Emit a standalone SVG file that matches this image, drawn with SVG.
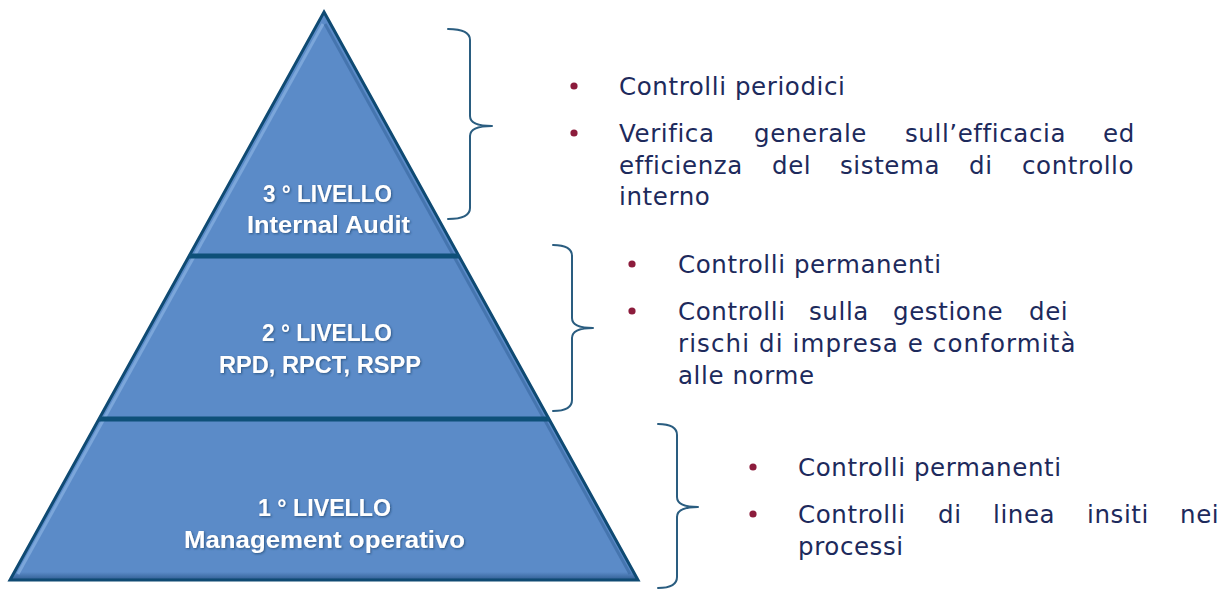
<svg xmlns="http://www.w3.org/2000/svg" width="1223" height="590" viewBox="0 0 1223 590">
  <defs>
    <style>
      .lvl { font-family: "Liberation Sans", Arial, sans-serif; font-weight: bold; font-size: 24px; fill: #ffffff; text-anchor: middle; }
      .txt { font-family: "DejaVu Sans", "Liberation Sans", sans-serif; font-size: 24.5px; fill: #1d2a5c; letter-spacing: 0.6px; }
      .bul { fill: #8c1c3c; }
      .brace { fill: none; stroke: #2a5d80; stroke-width: 2; stroke-linejoin: round; stroke-linecap: round; }
      .div { stroke: #0e5079; stroke-width: 5; }
    </style>
    <linearGradient id="bottomShade" x1="0" y1="0" x2="0" y2="1">
      <stop offset="0" stop-color="#5b8bc8"/>
      <stop offset="1" stop-color="#2f5d92"/>
    </linearGradient>
    <filter id="shadow" x="-10%" y="-30%" width="120%" height="160%">
      <feDropShadow dx="1" dy="1" stdDeviation="0.8" flood-color="#1f3f66" flood-opacity="0.7"/>
    </filter>
  </defs>
  <rect width="1223" height="590" fill="#ffffff"/>

  <g id="pyramid">
    <polygon points="324,12 638,580 10,580" fill="#5b8bc8"/>
    <polygon points="14,572 634,572 638,580 10,580" fill="url(#bottomShade)"/>
    <line x1="323" y1="24" x2="18" y2="574" stroke="#86afe0" stroke-width="3" opacity="0.75"/>
    <line x1="325" y1="24" x2="630" y2="574" stroke="#3d6ca5" stroke-width="3" opacity="0.7"/>
    <polygon points="324,12 638,580 10,580" fill="none" stroke="#0f4a73" stroke-width="3" stroke-linejoin="miter"/>
    <line class="div" x1="189" y1="256" x2="459" y2="256"/>
    <line class="div" x1="99" y1="419" x2="549" y2="419"/>
  </g>

  <g id="level3" filter="url(#shadow)">
    <text class="lvl" x="327.5" y="202" textLength="129" lengthAdjust="spacingAndGlyphs">3 ° LIVELLO</text>
    <text class="lvl" x="328.5" y="233" textLength="163" lengthAdjust="spacingAndGlyphs">Internal Audit</text>
  </g>
  <g id="level2" filter="url(#shadow)">
    <text class="lvl" x="327" y="341" textLength="130" lengthAdjust="spacingAndGlyphs">2 ° LIVELLO</text>
    <text class="lvl" x="320" y="373" textLength="202" lengthAdjust="spacingAndGlyphs">RPD, RPCT, RSPP</text>
  </g>
  <g id="level1" filter="url(#shadow)">
    <text class="lvl" x="324.5" y="516" textLength="133" lengthAdjust="spacingAndGlyphs">1 ° LIVELLO</text>
    <text class="lvl" x="324.5" y="548" textLength="281" lengthAdjust="spacingAndGlyphs">Management operativo</text>
  </g>

  <g id="connectors">
    <path class="brace" d="M448,29 Q470,29 470,40 L470,116 Q470,126 492,126 Q470,126 470,136 L470,208 Q470,219 448,219"/>
    <path class="brace" d="M553,245 Q572,245 572,256 L572,318 Q572,328 593,328 Q572,328 572,338 L572,400 Q572,411 553,411"/>
    <path class="brace" d="M658,424 Q677,424 677,435 L677,497 Q677,507 698,507 Q677,507 677,517 L677,577 Q677,588 658,588"/>
  </g>

  <g id="notes3">
    <circle class="bul" cx="574" cy="86" r="3.6"/>
    <text class="txt" x="619" y="95">Controlli periodici</text>
    <circle class="bul" cx="574" cy="133" r="3.6"/>
    <text class="txt" y="142"><tspan x="619">Verifica</tspan><tspan x="754">generale</tspan><tspan x="905">sull’efficacia</tspan><tspan x="1103">ed</tspan></text>
    <text class="txt" y="174"><tspan x="619">efficienza</tspan><tspan x="772">del</tspan><tspan x="840">sistema</tspan><tspan x="969">di</tspan><tspan x="1022">controllo</tspan></text>
    <text class="txt" x="619" y="205">interno</text>
  </g>

  <g id="notes2">
    <circle class="bul" cx="632" cy="264" r="3.6"/>
    <text class="txt" x="678" y="273">Controlli permanenti</text>
    <circle class="bul" cx="632" cy="311" r="3.6"/>
    <text class="txt" y="320"><tspan x="678">Controlli</tspan><tspan x="809">sulla</tspan><tspan x="893">gestione</tspan><tspan x="1029">dei</tspan></text>
    <text class="txt" x="678" y="352" textLength="398" lengthAdjust="spacing">rischi di impresa e conformità</text>
    <text class="txt" x="678" y="384">alle norme</text>
  </g>

  <g id="notes1">
    <circle class="bul" cx="753" cy="467" r="3.6"/>
    <text class="txt" x="798" y="476">Controlli permanenti</text>
    <circle class="bul" cx="753" cy="514" r="3.6"/>
    <text class="txt" y="523"><tspan x="798">Controlli</tspan><tspan x="938">di</tspan><tspan x="993">linea</tspan><tspan x="1087">insiti</tspan><tspan x="1180">nei</tspan></text>
    <text class="txt" x="798" y="555">processi</text>
  </g>
</svg>
